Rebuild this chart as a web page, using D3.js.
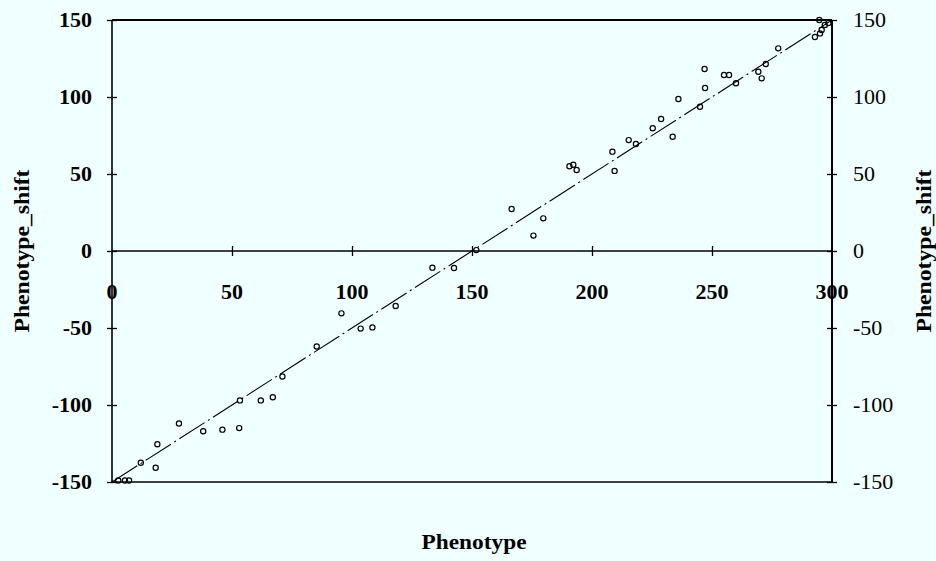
<!DOCTYPE html>
<html>
<head>
<meta charset="utf-8">
<script src="https://cdn.jsdelivr.net/npm/d3@7"></script>
<style>
  html, body { margin: 0; padding: 0; background: #f0ffff; }
  svg { display: block; }
  text { font-family: "Liberation Serif", "Times New Roman", serif; fill: #000; }
</style>
</head>
<body>
<svg id="chart" width="936" height="561"></svg>
<script>
// ---- data ----
const phenotype = [2.6, 5.4, 7.1, 12, 18.9, 18.2, 27.9, 38, 46, 53, 53.3, 62, 67, 71, 85.3, 95.6, 103.6, 108.5,
  118.2, 133.5, 142.5, 151.8, 166.5, 175.6, 179.7, 190.6, 192.2, 193.6, 208.5, 209.4, 215.3, 218.3, 225.3,
  228.8, 233.6, 236, 245, 247.1, 246.9, 255, 257.1, 260, 269.3, 270.7, 272.4, 277.6, 292.9, 295, 295.7, 297,
  298.5, 294.7];
const phenotypeShift = [-149, -149, -149, -137.5, -125.5, -140.7, -112, -117, -116, -115, -97, -97, -95, -81.5,
  -62, -40.5, -50.4, -49.6, -35.7, -10.8, -11, 0.6, 27.3, 10, 21.2, 55, 56, 52.6, 64.5, 52, 72, 69.5, 79.7,
  85.7, 74.2, 98.7, 93.7, 105.8, 118.2, 114.3, 114.3, 108.9, 116.4, 112.1, 121.4, 131.6, 139, 141.3, 143.5,
  146.8, 148, 150];
const fitLine = [[0, -150], [300, 150]];
const xTicks = [0, 50, 100, 150, 200, 250, 300];
const yTicks = [-150, -100, -50, 0, 50, 100, 150];
const xTitle = "Phenotype";
const yTitle = "Phenotype_shift";

// ---- layout ----
const svg = d3.select("#chart");
const x = d3.scaleLinear().domain([0, 300]).range([112, 832]);
const y = d3.scaleLinear().domain([-150, 150]).range([482, 20]);

const fs = 22;

// frame
const frame = svg.append("g").attr("stroke", "#000").attr("fill", "none");
frame.append("line").attr("x1", x(0)).attr("x2", x(300)).attr("y1", y(150)).attr("y2", y(150)).attr("stroke-width", 2);
frame.append("line").attr("x1", x(0)).attr("x2", x(300)).attr("y1", y(-150)).attr("y2", y(-150)).attr("stroke-width", 1.6);
frame.append("line").attr("x1", x(0)).attr("x2", x(0)).attr("y1", y(150)).attr("y2", y(-150)).attr("stroke-width", 1.6);
frame.append("line").attr("x1", x(300)).attr("x2", x(300)).attr("y1", y(150)).attr("y2", y(-150)).attr("stroke-width", 2);
// zero line
frame.append("line").attr("x1", x(0)).attr("x2", x(300)).attr("y1", y(0)).attr("y2", y(0)).attr("stroke-width", 1.4);

// axis ticks (cross) via d3 axes
const leftAxis = d3.axisLeft(y).tickValues(yTicks).tickSize(5).tickFormat("");
const leftAxisIn = d3.axisRight(y).tickValues(yTicks).tickSize(5).tickFormat("");
const rightAxis = d3.axisRight(y).tickValues(yTicks).tickSize(5).tickFormat("");
const rightAxisIn = d3.axisLeft(y).tickValues(yTicks).tickSize(5).tickFormat("");
const zeroAxisDown = d3.axisBottom(x).tickValues(xTicks.slice(1, -1)).tickSize(5).tickFormat("");
const zeroAxisUp = d3.axisTop(x).tickValues(xTicks.slice(1, -1)).tickSize(5).tickFormat("");

function styleAxis(g) {
  g.select(".domain").remove();
  g.selectAll(".tick line").attr("stroke", "#000").attr("stroke-width", 1.3);
}
svg.append("g").attr("transform", `translate(${x(0)},0)`).call(leftAxis).call(styleAxis);
svg.append("g").attr("transform", `translate(${x(0)},0)`).call(leftAxisIn).call(styleAxis);
svg.append("g").attr("transform", `translate(${x(300)},0)`).call(rightAxis).call(styleAxis);
svg.append("g").attr("transform", `translate(${x(300)},0)`).call(rightAxisIn).call(styleAxis);
svg.append("g").attr("transform", `translate(0,${y(0)})`).call(zeroAxisDown).call(styleAxis);
svg.append("g").attr("transform", `translate(0,${y(0)})`).call(zeroAxisUp).call(styleAxis);

// tick labels
svg.append("g").selectAll("text").data(yTicks).join("text")
  .attr("x", 92).attr("y", d => y(d)).attr("dy", "0.34em")
  .attr("text-anchor", "end").attr("font-size", fs).attr("font-weight", "bold")
  .text(d => d);
svg.append("g").selectAll("text").data(yTicks).join("text")
  .attr("x", 853).attr("y", d => y(d)).attr("dy", "0.34em")
  .attr("text-anchor", "start").attr("font-size", fs)
  .text(d => d);
svg.append("g").selectAll("text").data(xTicks).join("text")
  .attr("x", d => x(d)).attr("y", y(0) + 48)
  .attr("text-anchor", "middle").attr("font-size", fs).attr("font-weight", "bold")
  .text(d => d);

// titles
svg.append("text").attr("x", 474).attr("y", 549).attr("text-anchor", "middle")
  .attr("font-size", 21).attr("font-weight", "bold")
  .attr("textLength", 105).attr("lengthAdjust", "spacingAndGlyphs").text(xTitle);
svg.append("text").attr("transform", `translate(29,251) rotate(-90)`).attr("text-anchor", "middle")
  .attr("font-size", 21).attr("font-weight", "bold")
  .attr("textLength", 163).attr("lengthAdjust", "spacingAndGlyphs").text(yTitle);
svg.append("text").attr("transform", `translate(931,251) rotate(-90)`).attr("text-anchor", "middle")
  .attr("font-size", 21).attr("font-weight", "bold")
  .attr("textLength", 163).attr("lengthAdjust", "spacingAndGlyphs").text(yTitle);

// fitted line
svg.append("path").datum(fitLine)
  .attr("d", d3.line().x(d => x(d[0])).y(d => y(d[1])))
  .attr("fill", "none").attr("stroke", "#000").attr("stroke-width", 1.1)
  .attr("stroke-dasharray", "30,4,2,4");

// points
const pts = phenotype.map((p, i) => ({ p, s: phenotypeShift[i] }));
svg.append("g").selectAll("circle").data(pts).join("circle")
  .attr("cx", d => x(d.p)).attr("cy", d => y(d.s)).attr("r", 2.6)
  .attr("fill", "none").attr("stroke", "#000").attr("stroke-width", 1.2);
</script>
</body>
</html>
